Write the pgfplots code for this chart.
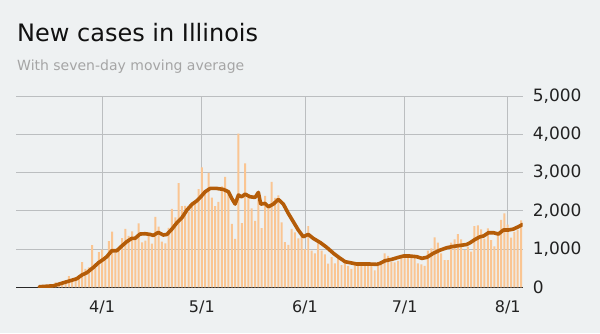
\documentclass[border=0pt]{standalone}
\usepackage{fontspec}
\setmainfont{DejaVu Sans}
\usepackage{pgfplots}
\pgfplotsset{compat=1.18}
\definecolor{bg}{RGB}{238,241,242}
\definecolor{barc}{RGB}{250,197,146}
\definecolor{lc}{RGB}{180,92,8}
\definecolor{gridc}{RGB}{187,190,192}
\definecolor{axisc}{RGB}{40,40,40}
\definecolor{titlec}{RGB}{17,17,17}
\definecolor{subc}{RGB}{165,165,165}
\definecolor{tickc}{RGB}{34,34,34}
\begin{document}
\begin{tikzpicture}
\fill[bg] (0pt,0pt) rectangle (600pt,333pt);
\useasboundingbox (0pt,0pt) rectangle (600pt,333pt);
\node[anchor=base west, inner sep=0pt, font=\fontsize{24}{28}\selectfont, text=titlec] at (17pt,291.3pt) {New cases in Illinois};
\node[anchor=base west, inner sep=0pt, font=\fontsize{14}{17}\selectfont, text=subc] at (17pt,262.3pt) {With seven-day moving average};
\begin{axis}[
  at={(16pt,45.7pt)}, anchor=south west,
  scale only axis, width=506.7pt, height=191.3pt,
  xmin=-25.9, xmax=126.5, ymin=0, ymax=5000,
  axis x line=bottom, axis y line=right,
  x axis line style={-, draw=axisc, line width=1.2pt},
  y axis line style={draw=none},
  xtick={0,30,61,91,122},
  xticklabels={4/1,5/1,6/1,7/1,8/1},
  ytick={0,1000,2000,3000,4000,5000},
  yticklabels={0,{1,000},{2,000},{3,000},{4,000},{5,000}},
  major tick length=0pt,
  grid=major,
  grid style={draw=gridc, line width=0.8pt},
  xticklabel style={font=\fontsize{16}{18}\selectfont, text=tickc, inner sep=0pt, anchor=north, yshift=-13pt},
  yticklabel style={font=\fontsize{17}{19}\selectfont, text=tickc, inner sep=0pt, anchor=west, xshift=10pt},
]
\addplot[ybar, bar width=0.6, fill=barc, draw=none] table {
d v
-19 14
-18 18
-17 29
-16 12
-15 55
-14 130
-13 100
-12 150
-11 165
-10 290
-9 200
-8 230
-7 250
-6 660
-5 480
-4 520
-3 1105
-2 580
-1 920
0 986
1 715
2 1209
3 1453
4 899
5 1006
6 1287
7 1529
8 1344
9 1465
10 1293
11 1672
12 1173
13 1222
14 1346
15 1140
16 1842
17 1585
18 1197
19 1151
20 1551
21 2049
22 1826
23 2724
24 2119
25 2126
26 1980
27 2219
28 2253
29 2563
30 3137
31 2450
32 2994
33 2341
34 2122
35 2236
36 2641
37 2887
38 2450
39 1656
40 1266
41 4014
42 1677
43 3239
44 2432
45 2060
46 1734
47 2300
48 1545
49 2388
50 2080
51 2758
52 2340
53 2400
54 1700
55 1178
56 1111
57 1527
58 1435
59 1280
60 1343
61 1000
62 1600
63 956
64 886
65 1148
66 956
67 860
68 620
69 790
70 625
71 750
72 580
73 645
74 560
75 480
76 590
77 580
78 650
79 640
80 640
81 600
82 440
83 560
84 600
85 890
86 820
87 660
88 650
89 690
90 780
91 843
92 860
93 840
94 850
95 626
96 600
97 557
98 956
99 1018
100 1305
101 1170
102 887
103 713
104 713
105 1170
106 1253
107 1392
108 1252
109 974
110 1060
111 930
112 1601
113 1620
114 1514
115 1270
116 1540
117 1235
118 1070
119 1450
120 1760
121 1930
122 1640
123 1300
124 1450
125 1500
126 1750
};
\addplot[draw=lc, line width=3.6pt, line join=round, line cap=round] table {
d v
-18.9 15
-14.6 40
-11.6 120
-9.6 172
-7.6 225
-6.1 321
-4.6 381
-2.6 522
-1.1 642
0.4 731
1.4 799
2.9 956
4.4 956
5.9 1078
7.4 1191
8.9 1279
9.9 1279
11.4 1392
12.9 1400
14.4 1383
15.4 1357
16.9 1435
18.4 1366
19.5 1383
21.0 1522
22.5 1688
24.0 1818
25.5 2018
27.0 2166
28.5 2262
29.5 2349
31.0 2497
32.5 2584
34.5 2584
36.5 2558
38.0 2497
39.0 2323
40.0 2175
41.0 2410
42.0 2366
43.0 2436
44.5 2366
46.0 2349
47.0 2480
47.7 2175
49.0 2192
50.0 2105
51.5 2175
53.0 2297
54.5 2175
56.0 1932
57.5 1714
59.0 1497
60.5 1322
62.0 1383
63.5 1279
65.6 1170
67.6 1040
69.6 888
71.6 757
73.1 669
74.6 643
76.6 608
78.6 608
80.6 608
82.6 600
83.6 626
85.1 695
87.1 730
89.1 783
90.6 817
92.6 817
94.6 800
96.2 757
97.7 783
99.6 888
101.7 974
103.7 1035
105.7 1070
107.7 1095
109.7 1120
110.7 1166
112.2 1253
113.7 1322
114.7 1340
116.2 1427
117.7 1427
119.2 1392
120.7 1497
122.2 1497
123.7 1522
125.2 1583
126.5 1645
};
\end{axis}
\end{tikzpicture}
\end{document}
